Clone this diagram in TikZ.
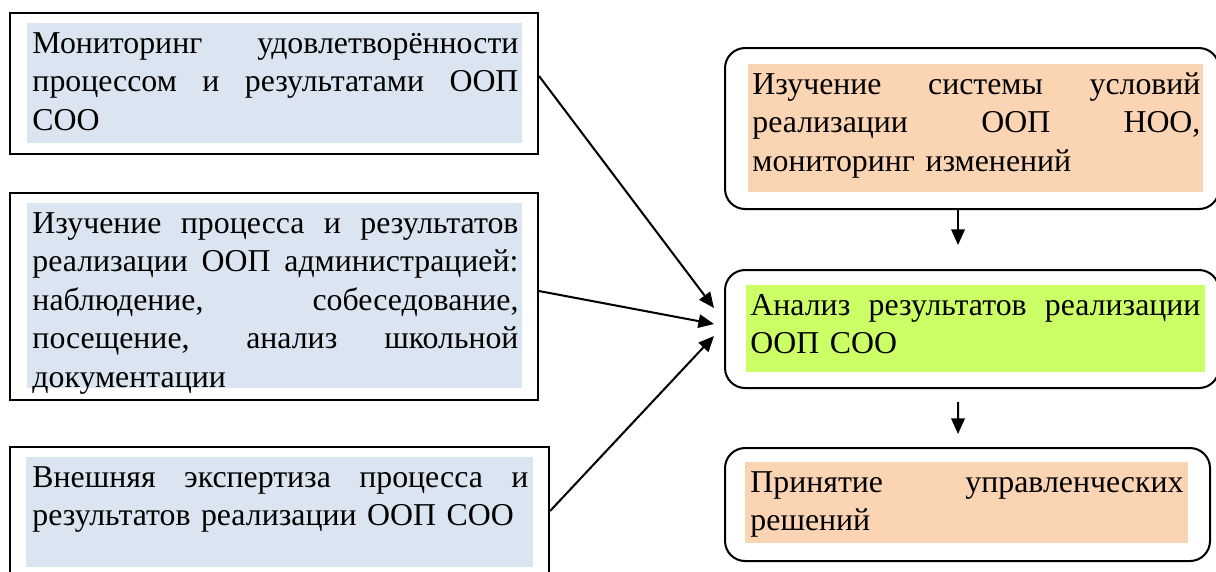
\documentclass[tikz,border=0pt]{standalone}
\usepackage{fontspec}
\setmainfont{Liberation Serif}
\usetikzlibrary{arrows.meta}
\definecolor{bluegray}{HTML}{DBE5F1}
\definecolor{peach}{HTML}{FBD4B4}
\definecolor{lime}{HTML}{CCFF66}
\newcommand\jl[1]{\makebox[\linewidth][s]{\spaceskip=0pt\relax\xspaceskip=0pt\relax #1}}
\tikzset{
  box/.style={draw=black, line width=0.85pt, rectangle, inner sep=0pt, anchor=north west},
  rbox/.style={box, rounded corners=8.4pt},
  shadebox/.style={rectangle, inner sep=0pt, anchor=north west, draw=none},
  txt/.style={inner sep=0pt, anchor=base west, align=left,
    font=\fontsize{13.3}{16.1}\selectfont},
  arr/.style={line width=0.85pt, -{Triangle[length=6.5pt,width=5.6pt]}}
}
\begin{document}
\begin{tikzpicture}[x=0.418pt,y=-0.418pt]
\useasboundingbox (0,0) rectangle (1216,571);
\clip (0,0) rectangle (1216,571);
% left boxes
\node[box, minimum width={528*0.418pt}, minimum height={141*0.418pt}] (b1) at (9,12) {};
\node[shadebox, fill=bluegray, minimum width={495*0.418pt}, minimum height={120*0.418pt}] (b1s) at (27,23) {};
\node[txt, text width={486*0.418pt}] (b1t) at (32,53)
  {\jl{Мониторинг удовлетворённости}\\\jl{процессом и результатами ООП}\\СОО};

\node[box, minimum width={528*0.418pt}, minimum height={207*0.418pt}] (b2) at (9,192) {};
\node[shadebox, fill=bluegray, minimum width={495*0.418pt}, minimum height={185*0.418pt}] (b2s) at (27,203) {};
\node[txt, text width={486*0.418pt}] (b2t) at (32,233)
  {\jl{Изучение процесса и результатов}\\\jl{реализации ООП администрацией:}\\\jl{наблюдение, собеседование,}\\\jl{посещение, анализ школьной}\\документации};

\node[box, minimum width={539*0.418pt}, minimum height={144*0.418pt}] (b3) at (9,446) {};
\node[shadebox, fill=bluegray, minimum width={507*0.418pt}, minimum height={110*0.418pt}] (b3s) at (26,457) {};
\node[txt, text width={496*0.418pt}] (b3t) at (32,487)
  {\jl{Внешняя экспертиза процесса и}\\результатов реализации ООП СОО};

% right boxes
\node[rbox, minimum width={494*0.418pt}, minimum height={161*0.418pt}] (r1) at (724,47) {};
\node[shadebox, fill=peach, minimum width={455*0.418pt}, minimum height={128*0.418pt}] (r1s) at (748,64) {};
\node[txt, text width={448*0.418pt}] (r1t) at (752,94)
  {\jl{Изучение системы условий}\\\jl{реализации ООП НОО,}\\мониторинг изменений};

\node[rbox, minimum width={494*0.418pt}, minimum height={118*0.418pt}] (r2) at (724,269) {};
\node[shadebox, fill=lime, minimum width={459*0.418pt}, minimum height={87*0.418pt}] (r2s) at (746,285) {};
\node[txt, text width={450*0.418pt}] (r2t) at (750,315)
  {\jl{Анализ результатов реализации}\\ООП СОО};

\node[rbox, minimum width={485*0.418pt}, minimum height={113*0.418pt}] (r3) at (724,447) {};
\node[shadebox, fill=peach, minimum width={443*0.418pt}, minimum height={81*0.418pt}] (r3s) at (745,462) {};
\node[txt, text width={433*0.418pt}] (r3t) at (750,492)
  {\jl{Принятие управленческих}\\решений};

% connectors
\draw[arr] ([yshift=3.14pt]b1.east) -- ([xshift=-4.18pt,yshift=8.78pt]r2.west);
\draw[arr] ([yshift=2.3pt]b2.east) -- ([xshift=-4.18pt,yshift=2.09pt]r2.west);
\draw[arr] ([yshift=3.34pt]b3.east) -- ([xshift=-4.18pt,yshift=-2.93pt]r2.west);
\draw[arr] ([xshift=-5.85pt]r1.south) -- ([xshift=-5.85pt,yshift=10.03pt]r2.north);
\draw[arr] ([xshift=-5.85pt,yshift=-5.43pt]r2.south) -- ([xshift=-3.97pt,yshift=5.43pt]r3.north);
\end{tikzpicture}
\end{document}
